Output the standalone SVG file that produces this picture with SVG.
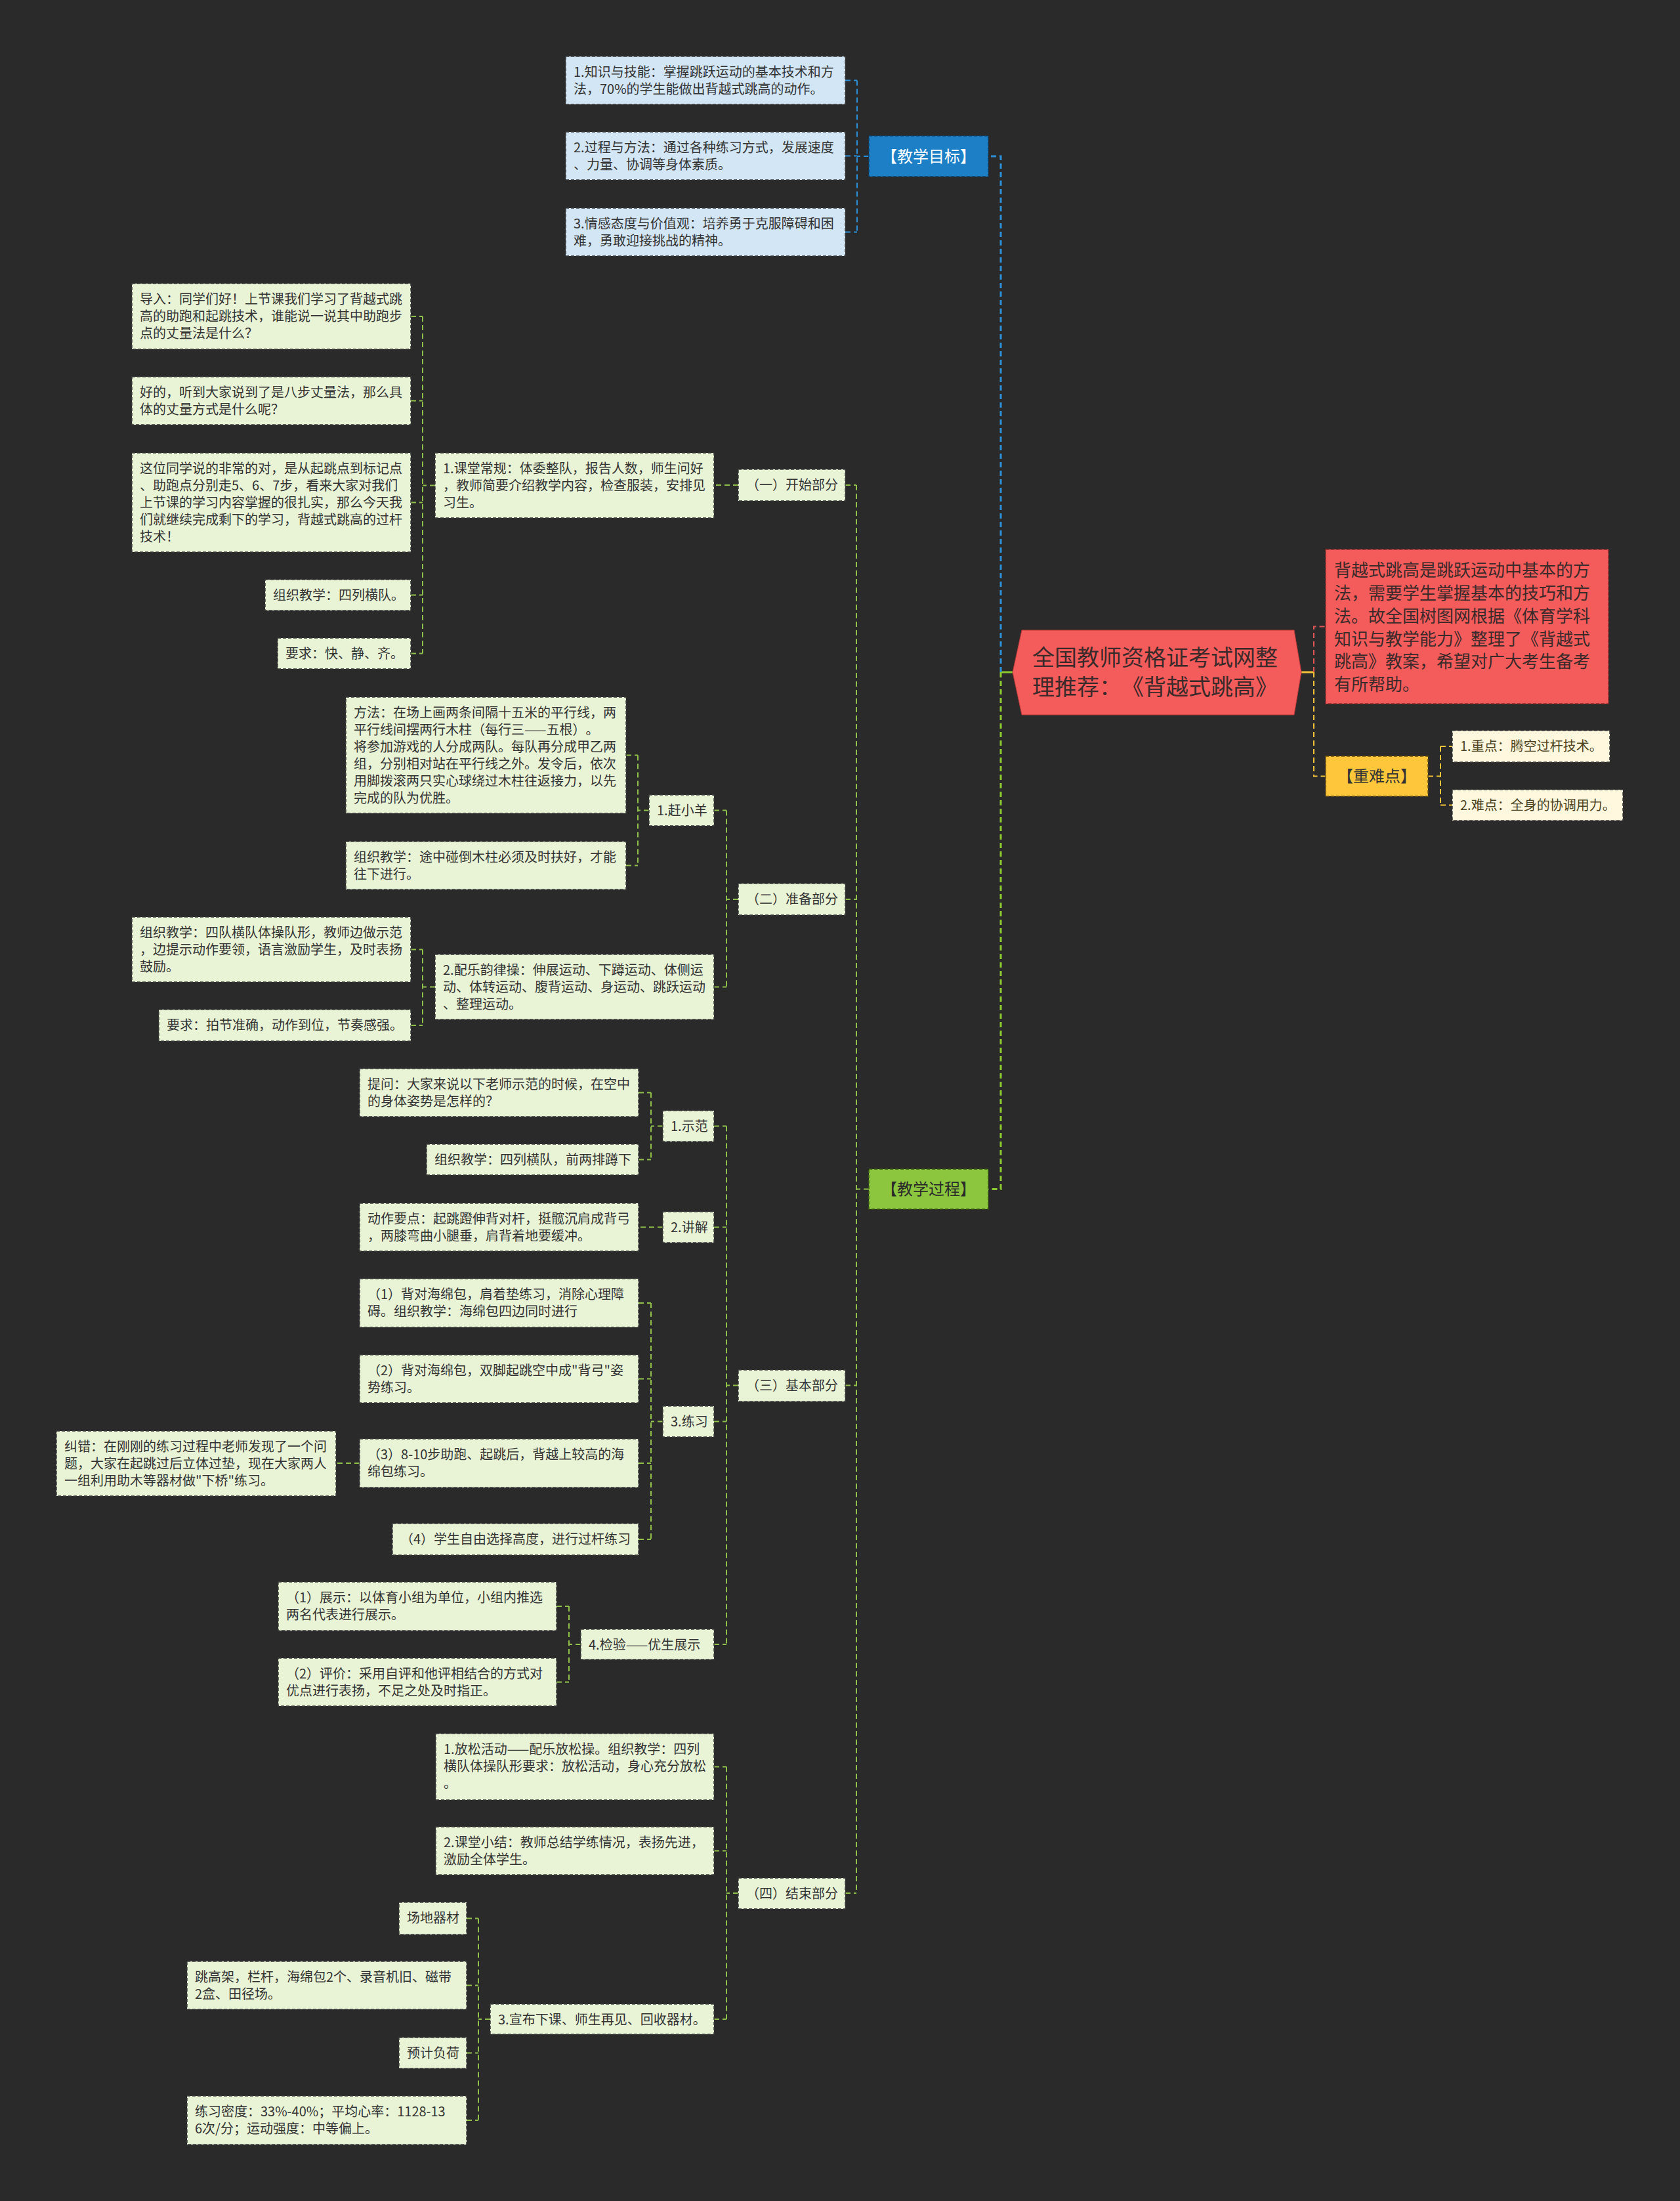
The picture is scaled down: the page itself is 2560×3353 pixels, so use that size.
<svg xmlns="http://www.w3.org/2000/svg" width="2560" height="3353" viewBox="0 0 2560 3353">
<style>
text{font-family:"Noto Sans CJK SC","Noto Sans",sans-serif;font-size:20px;fill:#333333;text-spacing-trim:space-all}
.leaf{fill:#E9F4D6;stroke:#3c3c3c;stroke-width:1.5;stroke-dasharray:5 3}
.blue{fill:#D3E6F5;stroke:#3c3c3c;stroke-width:1.5;stroke-dasharray:5 3}
.cream{fill:#FFF8DE;stroke:#3c3c3c;stroke-width:1.5;stroke-dasharray:5 3}
.ctext{fill:#4d4320}
.mid{font-size:24px}
.c{fill:none;stroke-width:2;stroke-dasharray:8 5}
.cg{stroke:#8FC04A}
.cb{stroke:#2D8FD5}
.cy{stroke:#F2C23A}
.cr{stroke:#E05555}
.thick{stroke-width:3}
</style>
<rect x="0" y="0" width="2560" height="3353" fill="#2a2a2a"/>

<g id="connectors">
  <path d="M1525,1024 H1543" fill="none" stroke="#8BC92E" stroke-width="3"/>
  <path class="c cb thick" d="M1525,1024 V238 H1506"/>
  <path class="c cg thick" d="M1525,1024 V1811.5 H1506" style="stroke:#8BC92E"/>
  <path d="M1983,1024 H2002" fill="none" stroke="#F2C23A" stroke-width="3"/>
  <path class="c cr" d="M2002,1024 V954.5 H2020"/>
  <path class="c cy" d="M2002,1024 V1182.5 H2020"/>
  <path class="c cb" d="M1324,238 H1306 M1306,122.5 V353.5 M1288,122.5 H1306 M1288,237.5 H1306 M1288,353.5 H1306"/>
  <path class="c cy" d="M2176,1182.5 H2195 M2195,1137 V1226.5 M2195,1137 H2213 M2195,1226.5 H2213"/>
  <path class="c cg" d="M1324,1811.5 H1305 M1305,739 V2884 M1288,739 H1305 M1288,1370 H1305 M1288,2110.5 H1305 M1288,2884 H1305"/>
  <path class="c cg" d="M1125,739 H1088"/>
  <path class="c cg" d="M663,739.5 H644 M644,482 V995.5 M626,482 H644 M626,610.5 H644 M626,765.5 H644 M626,906.5 H644 M626,995.5 H644"/>
  <path class="c cg" d="M1125,1370 H1107 M1107,1234.5 V1503.5 M1088,1234.5 H1107 M1088,1503.5 H1107"/>
  <path class="c cg" d="M989,1234.5 H972 M972,1150.5 V1318.5 M954,1150.5 H972 M954,1318.5 H972"/>
  <path class="c cg" d="M663,1503.5 H644 M644,1446.5 V1562 M626,1446.5 H644 M626,1562 H644"/>
  <path class="c cg" d="M1125,2110.5 H1107 M1107,1715.5 V2505 M1088,1715.5 H1107 M1088,1869.5 H1107 M1088,2165.5 H1107 M1088,2505 H1107"/>
  <path class="c cg" d="M1010,1715.5 H992 M992,1664.5 V1766.5 M973,1664.5 H992 M973,1766.5 H992"/>
  <path class="c cg" d="M1010,1869.5 H973"/>
  <path class="c cg" d="M1010,2165.5 H992 M992,1985 V2345 M973,1985 H992 M973,2100.5 H992 M973,2229 H992 M973,2345 H992"/>
  <path class="c cg" d="M548,2229 H512"/>
  <path class="c cg" d="M885,2505 H867 M867,2447 V2562.5 M848,2447 H867 M848,2562.5 H867"/>
  <path class="c cg" d="M1125,2884 H1107 M1107,2691.5 V3076 M1088,2691.5 H1107 M1088,2819.5 H1107 M1088,3076 H1107"/>
  <path class="c cg" d="M747,3076 H729 M729,2922.5 V3230 M711,2922.5 H729 M711,3024.5 H729 M711,3127.5 H729 M711,3230 H729"/>
</g>

<g id="root">
  <polygon points="1543,1024 1557,960 1972,960 1983,1024 1972,1089 1557,1089" fill="#F45B5B" stroke="#b83a3a" stroke-width="1"/>
  <text style="font-size:34px;fill:#3a2a2a"><tspan x="1573" y="1014">全国教师资格证考试网整</tspan><tspan x="1573" y="1059">理推荐：《背越式跳高》</tspan></text>
</g>

<g id="summary">
  <rect x="2020" y="837" width="431" height="235" fill="#F45B5B" stroke="#8a2a2a" stroke-width="1.5" stroke-dasharray="5 3"/>
  <text style="font-size:26px;fill:#3a2a2a"><tspan x="2033" y="878">背越式跳高是跳跃运动中基本的方</tspan><tspan x="2033" y="913">法，需要学生掌握基本的技巧和方</tspan><tspan x="2033" y="948">法。故全国树图网根据《体育学科</tspan><tspan x="2033" y="983">知识与教学能力》整理了《背越式</tspan><tspan x="2033" y="1017">跳高》教案，希望对广大考生备考</tspan><tspan x="2033" y="1052">有所帮助。</tspan></text>
</g>

<g id="keypoints">
  <rect x="2020" y="1152" width="156" height="61" fill="#FDC63B" stroke="#6a5010" stroke-width="1.5" stroke-dasharray="5 3"/>
  <text class="mid" x="2098" y="1191" text-anchor="middle">【重难点】</text>
</g>
<g id="key1">
  <rect class="cream" x="2213" y="1113" width="240" height="48"/>
  <text class="ctext" x="2225" y="1144">1.重点：腾空过杆技术。</text>
</g>
<g id="key2">
  <rect class="cream" x="2213" y="1203" width="260" height="47"/>
  <text class="ctext" x="2225" y="1234">2.难点：全身的协调用力。</text>
</g>

<g id="goal">
  <rect x="1324" y="207" width="182" height="62" fill="#1D7FC6" stroke="#0e3f66" stroke-width="1.5" stroke-dasharray="5 3"/>
  <text class="mid" x="1415" y="247" text-anchor="middle" style="fill:#ffffff">【教学目标】</text>
</g>
<g id="goal1">
  <rect class="blue" x="862" y="86" width="426" height="73"/>
  <text><tspan x="874" y="117">1.知识与技能：掌握跳跃运动的基本技术和方</tspan><tspan x="874" y="143">法，70%的学生能做出背越式跳高的动作。</tspan></text>
</g>
<g id="goal2">
  <rect class="blue" x="862" y="201" width="426" height="73"/>
  <text><tspan x="874" y="232">2.过程与方法：通过各种练习方式，发展速度</tspan><tspan x="874" y="258">、力量、协调等身体素质。</tspan></text>
</g>
<g id="goal3">
  <rect class="blue" x="862" y="317" width="426" height="73"/>
  <text><tspan x="874" y="348">3.情感态度与价值观：培养勇于克服障碍和困</tspan><tspan x="874" y="374">难，勇敢迎接挑战的精神。</tspan></text>
</g>

<g id="process">
  <rect x="1324" y="1781" width="182" height="61" fill="#8CC63F" stroke="#3a5a10" stroke-width="1.5" stroke-dasharray="5 3"/>
  <text class="mid" x="1415" y="1820" text-anchor="middle" style="fill:#2a2a2a">【教学过程】</text>
</g>

<g id="s1">
  <rect class="leaf" x="1125" y="715" width="163" height="48"/>
  <text x="1137" y="746">（一）开始部分</text>
</g>
<g id="s2">
  <rect class="leaf" x="1125" y="1346" width="163" height="48"/>
  <text x="1137" y="1377">（二）准备部分</text>
</g>
<g id="s3">
  <rect class="leaf" x="1125" y="2087" width="163" height="48"/>
  <text x="1137" y="2118">（三）基本部分</text>
</g>
<g id="s4">
  <rect class="leaf" x="1125" y="2861" width="163" height="47"/>
  <text x="1137" y="2892">（四）结束部分</text>
</g>

<g id="a0">
  <rect class="leaf" x="663" y="690" width="425" height="99"/>
  <text><tspan x="675" y="721">1.课堂常规：体委整队，报告人数，师生问好</tspan><tspan x="675" y="747">，教师简要介绍教学内容，检查服装，安排见</tspan><tspan x="675" y="773">习生。</tspan></text>
</g>
<g id="a1">
  <rect class="leaf" x="201" y="432" width="425" height="100"/>
  <text><tspan x="213" y="463">导入：同学们好！上节课我们学习了背越式跳</tspan><tspan x="213" y="489">高的助跑和起跳技术，谁能说一说其中助跑步</tspan><tspan x="213" y="515">点的丈量法是什么？</tspan></text>
</g>
<g id="a2">
  <rect class="leaf" x="201" y="574" width="425" height="73"/>
  <text><tspan x="213" y="605">好的，听到大家说到了是八步丈量法，那么具</tspan><tspan x="213" y="631">体的丈量方式是什么呢？</tspan></text>
</g>
<g id="a3">
  <rect class="leaf" x="201" y="690" width="425" height="151"/>
  <text><tspan x="213" y="721">这位同学说的非常的对，是从起跳点到标记点</tspan><tspan x="213" y="747">、助跑点分别走5、6、7步，看来大家对我们</tspan><tspan x="213" y="773">上节课的学习内容掌握的很扎实，那么今天我</tspan><tspan x="213" y="799">们就继续完成剩下的学习，背越式跳高的过杆</tspan><tspan x="213" y="825">技术！</tspan></text>
</g>
<g id="a4">
  <rect class="leaf" x="404" y="883" width="222" height="47"/>
  <text x="416" y="914">组织教学：四列横队。</text>
</g>
<g id="a5">
  <rect class="leaf" x="423" y="972" width="203" height="47"/>
  <text x="435" y="1003">要求：快、静、齐。</text>
</g>

<g id="b1">
  <rect class="leaf" x="989" y="1211" width="99" height="47"/>
  <text x="1001" y="1242">1.赶小羊</text>
</g>
<g id="b11">
  <rect class="leaf" x="527" y="1062" width="427" height="177"/>
  <text><tspan x="539" y="1093">方法：在场上画两条间隔十五米的平行线，两</tspan><tspan x="539" y="1119">平行线间摆两行木柱（每行三——五根）。</tspan><tspan x="539" y="1145">将参加游戏的人分成两队。每队再分成甲乙两</tspan><tspan x="539" y="1171">组，分别相对站在平行线之外。发令后，依次</tspan><tspan x="539" y="1197">用脚拨滚两只实心球绕过木柱往返接力，以先</tspan><tspan x="539" y="1223">完成的队为优胜。</tspan></text>
</g>
<g id="b12">
  <rect class="leaf" x="527" y="1282" width="427" height="73"/>
  <text><tspan x="539" y="1313">组织教学：途中碰倒木柱必须及时扶好，才能</tspan><tspan x="539" y="1339">往下进行。</tspan></text>
</g>
<g id="b2">
  <rect class="leaf" x="663" y="1454" width="425" height="99"/>
  <text><tspan x="675" y="1485">2.配乐韵律操：伸展运动、下蹲运动、体侧运</tspan><tspan x="675" y="1511">动、体转运动、腹背运动、身运动、跳跃运动</tspan><tspan x="675" y="1537">、整理运动。</tspan></text>
</g>
<g id="b21">
  <rect class="leaf" x="201" y="1397" width="425" height="99"/>
  <text><tspan x="213" y="1428">组织教学：四队横队体操队形，教师边做示范</tspan><tspan x="213" y="1454">，边提示动作要领，语言激励学生，及时表扬</tspan><tspan x="213" y="1480">鼓励。</tspan></text>
</g>
<g id="b22">
  <rect class="leaf" x="242" y="1538" width="384" height="48"/>
  <text x="254" y="1569">要求：拍节准确，动作到位，节奏感强。</text>
</g>

<g id="c1">
  <rect class="leaf" x="1010" y="1692" width="78" height="47"/>
  <text x="1022" y="1723">1.示范</text>
</g>
<g id="c11">
  <rect class="leaf" x="548" y="1628" width="425" height="73"/>
  <text><tspan x="560" y="1659">提问：大家来说以下老师示范的时候，在空中</tspan><tspan x="560" y="1685">的身体姿势是怎样的？</tspan></text>
</g>
<g id="c12">
  <rect class="leaf" x="650" y="1743" width="323" height="47"/>
  <text x="662" y="1774">组织教学：四列横队，前两排蹲下</text>
</g>
<g id="c2">
  <rect class="leaf" x="1010" y="1846" width="78" height="47"/>
  <text x="1022" y="1877">2.讲解</text>
</g>
<g id="c21">
  <rect class="leaf" x="548" y="1833" width="425" height="73"/>
  <text><tspan x="560" y="1864">动作要点：起跳蹬伸背对杆，挺髋沉肩成背弓</tspan><tspan x="560" y="1890">，两膝弯曲小腿垂，肩背着地要缓冲。</tspan></text>
</g>
<g id="c3">
  <rect class="leaf" x="1010" y="2142" width="78" height="47"/>
  <text x="1022" y="2173">3.练习</text>
</g>
<g id="c31">
  <rect class="leaf" x="548" y="1948" width="425" height="74"/>
  <text><tspan x="560" y="1979">（1）背对海绵包，肩着垫练习，消除心理障</tspan><tspan x="560" y="2005">碍。组织教学：海绵包四边同时进行</tspan></text>
</g>
<g id="c32">
  <rect class="leaf" x="548" y="2064" width="425" height="73"/>
  <text><tspan x="560" y="2095">（2）背对海绵包，双脚起跳空中成"背弓"姿</tspan><tspan x="560" y="2121">势练习。</tspan></text>
</g>
<g id="c33">
  <rect class="leaf" x="548" y="2192" width="425" height="74"/>
  <text><tspan x="560" y="2223">（3）8-10步助跑、起跳后，背越上较高的海</tspan><tspan x="560" y="2249">绵包练习。</tspan></text>
</g>
<g id="c331">
  <rect class="leaf" x="86" y="2180" width="426" height="99"/>
  <text><tspan x="98" y="2211">纠错：在刚刚的练习过程中老师发现了一个问</tspan><tspan x="98" y="2237">题，大家在起跳过后立体过垫，现在大家两人</tspan><tspan x="98" y="2263">一组利用助木等器材做"下桥"练习。</tspan></text>
</g>
<g id="c34">
  <rect class="leaf" x="598" y="2321" width="375" height="48"/>
  <text x="610" y="2352">（4）学生自由选择高度，进行过杆练习</text>
</g>
<g id="c4">
  <rect class="leaf" x="885" y="2482" width="203" height="46"/>
  <text x="897" y="2513">4.检验——优生展示</text>
</g>
<g id="c41">
  <rect class="leaf" x="424" y="2410" width="424" height="74"/>
  <text><tspan x="436" y="2441">（1）展示：以体育小组为单位，小组内推选</tspan><tspan x="436" y="2467">两名代表进行展示。</tspan></text>
</g>
<g id="c42">
  <rect class="leaf" x="424" y="2526" width="424" height="73"/>
  <text><tspan x="436" y="2557">（2）评价：采用自评和他评相结合的方式对</tspan><tspan x="436" y="2583">优点进行表扬，不足之处及时指正。</tspan></text>
</g>

<g id="d1">
  <rect class="leaf" x="664" y="2641" width="424" height="101"/>
  <text><tspan x="676" y="2672">1.放松活动——配乐放松操。组织教学：四列</tspan><tspan x="676" y="2698">横队体操队形要求：放松活动，身心充分放松</tspan><tspan x="676" y="2724">。</tspan></text>
</g>
<g id="d2">
  <rect class="leaf" x="664" y="2783" width="424" height="73"/>
  <text><tspan x="676" y="2814">2.课堂小结：教师总结学练情况，表扬先进，</tspan><tspan x="676" y="2840">激励全体学生。</tspan></text>
</g>
<g id="d3">
  <rect class="leaf" x="747" y="3053" width="341" height="46"/>
  <text x="759" y="3084">3.宣布下课、师生再见、回收器材。</text>
</g>
<g id="d31">
  <rect class="leaf" x="608" y="2898" width="103" height="49"/>
  <text x="620" y="2929">场地器材</text>
</g>
<g id="d32">
  <rect class="leaf" x="285" y="2988" width="426" height="73"/>
  <text><tspan x="297" y="3019">跳高架，栏杆，海绵包2个、录音机旧、磁带</tspan><tspan x="297" y="3045">2盒、田径场。</tspan></text>
</g>
<g id="d33">
  <rect class="leaf" x="608" y="3104" width="103" height="47"/>
  <text x="620" y="3135">预计负荷</text>
</g>
<g id="d34">
  <rect class="leaf" x="285" y="3193" width="426" height="74"/>
  <text><tspan x="297" y="3224">练习密度：33%-40%；平均心率：1128-13</tspan><tspan x="297" y="3250">6次/分；运动强度：中等偏上。</tspan></text>
</g>
</svg>
